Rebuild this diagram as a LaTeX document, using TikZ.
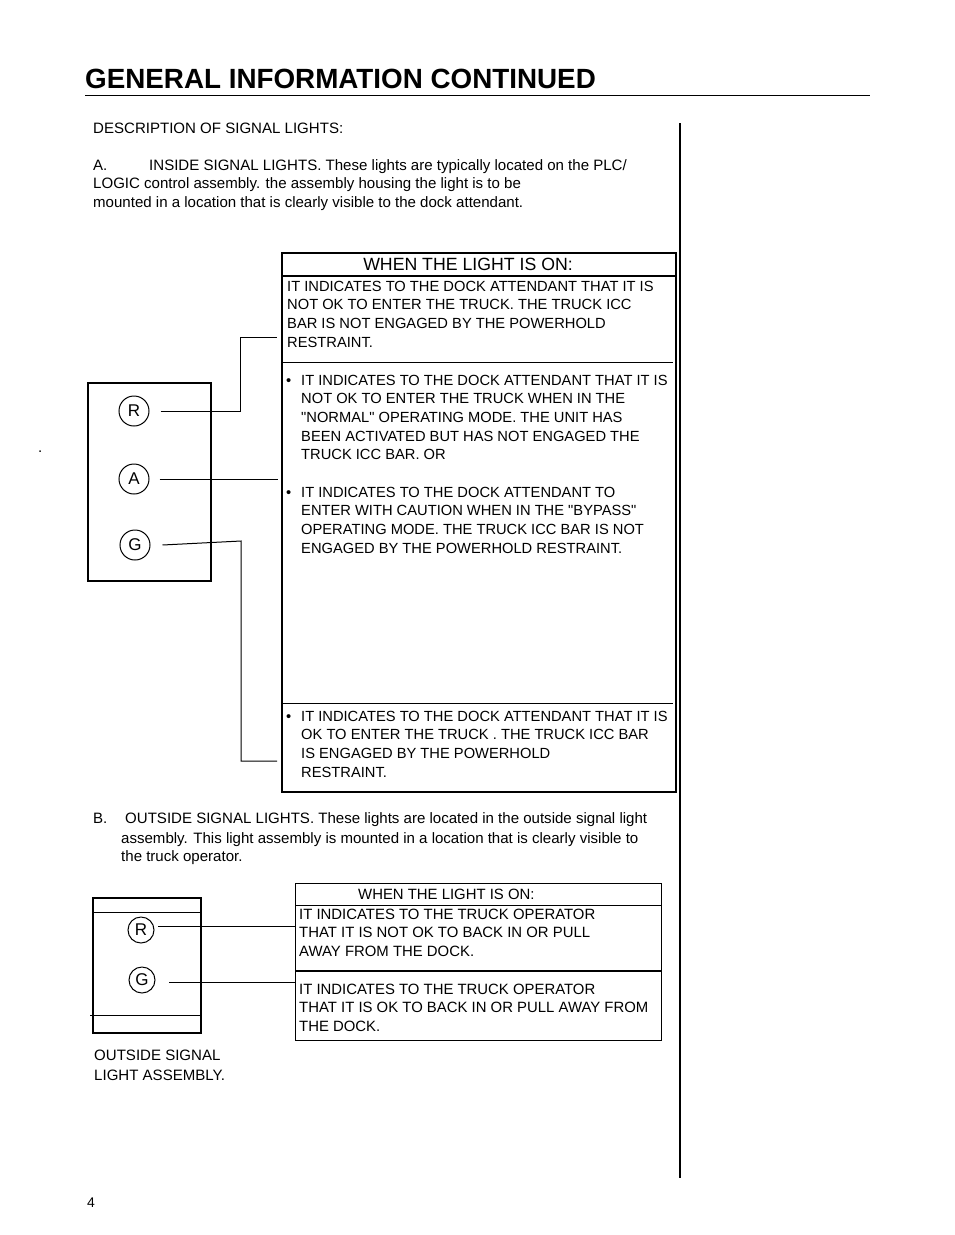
\documentclass[tikz,border=0pt]{standalone}
\usepackage{fontspec}
\setmainfont{Liberation Sans}
\begin{document}
\begin{tikzpicture}[x=1pt,y=-1pt,
  txt/.style={anchor=base west, inner sep=0, align=left, font=\fontsize{15.05}{18.6}\selectfont},
  btxt/.style={anchor=base west, inner sep=0, align=left, font=\fontsize{14.7}{18.7}\selectfont},
  stxt/.style={anchor=base west, inner sep=0, align=left, font=\fontsize{14.9}{18.6}\selectfont},
  lamp/.style={circle, draw, line width=1pt, inner sep=0, minimum size=#1, font=\fontsize{17}{17}\selectfont},
  wire/.style={line width=1pt},
  frame/.style={draw, line width=2pt, inner sep=0, anchor=north west}
]
\useasboundingbox (0,0) rectangle (954,1235);
% title
\node[anchor=base west, inner sep=0, font=\fontsize{27.8}{28}\bfseries\selectfont] (title) at (85,88) {GENERAL INFORMATION CONTINUED};
\draw[line width=1pt] (85,95.5) -- (870,95.5);
\draw[line width=2.5pt] (680,123) -- (680,1178);
% intro
\node[txt] (desc) at (93,133) {DESCRIPTION OF SIGNAL LIGHTS:};
\node[txt] (aLbl) at (93,170) {A.};
\node[txt] (aTxt1) at (149,170) {INSIDE SIGNAL LIGHTS. These lights are typically located on the PLC/};
\node[txt] (aTxt2) at (93,207.2) {LOGIC control assembly. the assembly housing the light is to be\\mounted in a location that is clearly visible to the dock attendant.};
\node[txt] (dot) at (38,452) {.};
% big table
\node[frame, minimum width=394pt, minimum height=539pt] (bigbox) at (281,252) {};
\draw[line width=2pt] (281,276) -- (675,276);
\draw[line width=1pt] (283,362.5) -- (673,362.5);
\draw[line width=1pt] (283,703.5) -- (673,703.5);
\node[anchor=base, inner sep=0, font=\fontsize{17.7}{18}\selectfont] (bigHead) at (468,270) {WHEN THE LIGHT IS ON:};
\node[btxt] (red1) at (287,347.1) {IT INDICATES TO THE DOCK ATTENDANT THAT IT IS\\NOT OK TO ENTER THE TRUCK. THE TRUCK ICC\\BAR IS NOT ENGAGED BY THE POWERHOLD\\RESTRAINT.};
\node[btxt] (ambB1) at (286,385) {\textbullet};
\node[btxt] (amb1) at (301,459.8) {IT INDICATES TO THE DOCK ATTENDANT THAT IT IS\\NOT OK TO ENTER THE TRUCK WHEN IN THE\\\textquotedbl NORMAL\textquotedbl{} OPERATING MODE. THE UNIT HAS\\BEEN ACTIVATED BUT HAS NOT ENGAGED THE\\TRUCK ICC BAR. OR};
\node[btxt] (ambB2) at (286,497) {\textbullet};
\node[btxt] (amb2) at (301,553.1) {IT INDICATES TO THE DOCK ATTENDANT TO\\ENTER WITH CAUTION WHEN IN THE \textquotedbl BYPASS\textquotedbl\\OPERATING MODE. THE TRUCK ICC BAR IS NOT\\ENGAGED BY THE POWERHOLD RESTRAINT.};
\node[btxt] (grnB) at (286,721) {\textbullet};
\node[btxt] (grn1) at (301,777.1) {IT INDICATES TO THE DOCK ATTENDANT THAT IT IS\\OK TO ENTER THE TRUCK . THE TRUCK ICC BAR\\IS ENGAGED BY THE POWERHOLD\\RESTRAINT.};
% inside lamp box
\node[frame, minimum width=123pt, minimum height=198pt] (inBox) at (87,382) {};
\node[lamp=30pt] (iR) at (134,411) {R};
\node[lamp=30pt] (iA) at (134,479) {A};
\node[lamp=30pt] (iG) at (135,545) {G};
\coordinate (iRend) at (277,337);
\coordinate (iAend) at (278,479);
\coordinate (iGend) at (277,761);
\draw[wire] ([xshift=11pt]iR.east) -- (240,411) |- (iRend);
\draw[wire] ([xshift=10pt]iA.east) -- (iAend);
\draw[wire] ([xshift=12pt]iG.east) -- (241,541) |- (iGend);
% section B
\node[txt] (bLbl) at (93,823) {B.};
\node[txt] (bTxt1) at (125,823) {OUTSIDE SIGNAL LIGHTS. These lights are located in the outside signal light};
\node[txt] (bTxt2) at (121,861.6) {assembly. This light assembly is mounted in a location that is clearly visible to\\the truck operator.};
% small table
\node[draw, line width=1pt, inner sep=0, anchor=north west, minimum width=366pt, minimum height=157pt] (smBox) at (295,883) {};
\draw[line width=1.3pt] (295,905.5) -- (661,905.5);
\draw[line width=1.3pt] (295,971) -- (661,971);
\node[stxt] (smHead) at (358,899) {WHEN THE LIGHT IS ON:};
\node[stxt] (smRed) at (299,956.2) {IT INDICATES TO THE TRUCK OPERATOR\\THAT IT IS NOT OK TO BACK IN OR PULL\\AWAY FROM THE DOCK.};
\node[stxt] (smGrn) at (299,1031.2) {IT INDICATES TO THE TRUCK OPERATOR\\THAT IT IS OK TO BACK IN OR PULL AWAY FROM\\THE DOCK.};
% outside lamp box
\node[frame, line width=1.8pt, minimum width=108pt, minimum height=135pt] (outBox) at (92,897) {};
\draw[line width=1pt] (92,912) -- (200,912);
\draw[line width=1pt] (90,1015) -- (200,1015);
\node[lamp=26pt] (oR) at (141,930) {R};
\node[lamp=26pt] (oG) at (142,980) {G};
\coordinate (oRend) at (295,926);
\coordinate (oGend) at (295,982);
\draw[wire, shorten >=3pt] (oRend) -- (oRend -| oR.east);
\draw[wire, shorten >=13pt] (oGend) -- (oGend -| oG.east);
\node[txt, font=\fontsize{15.05}{20}\selectfont] (outCap) at (94,1080) {OUTSIDE SIGNAL\\LIGHT ASSEMBLY.};
\node[txt, font=\fontsize{14}{14}\selectfont] (pg) at (87,1207) {4};
\end{tikzpicture}
\end{document}
